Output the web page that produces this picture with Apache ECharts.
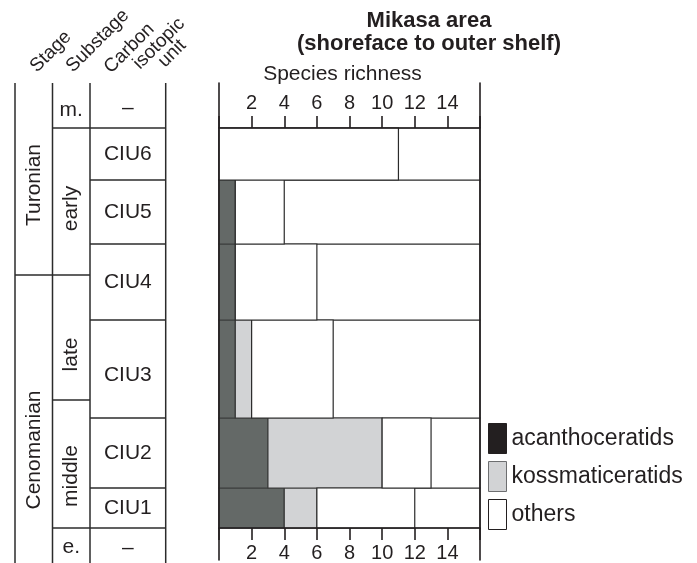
<!DOCTYPE html>
<html>
<head>
<meta charset="utf-8">
<script src="https://cdn.jsdelivr.net/npm/echarts@6/dist/echarts.min.js"></script>
<style>html,body{margin:0;background:#fff}#chart{width:697px;height:563px}</style>
</head>
<body>
<div id="chart"></div>
<script>
// stratigraphic column (level units, base of CIU1 = 0)
const stageNames = ['Cenomanian', 'Turonian'];
const stageBounds = [-35, 253, 445];
const substageNames = ['e.', 'middle', 'late', 'early', 'm.'];
const substageBounds = [-35, 0, 128, 253, 400, 445];
const unitNames = ['–', 'CIU1', 'CIU2', 'CIU3', 'CIU4', 'CIU5', 'CIU6', '–'];
const unitBounds = [-35, 0, 40, 110, 208, 284, 348, 400, 445];

// species richness per unit, CIU1 -> CIU6
const ciuUnits = ['CIU1', 'CIU2', 'CIU3', 'CIU4', 'CIU5', 'CIU6'];
const acanthoceratids = [4, 3, 1, 1, 1, 0];
const kossmaticeratids = [2, 7, 1, 0, 0, 0];
const others = [6, 3, 5, 5, 3, 11];
const richnessTicks = [2, 4, 6, 8, 10, 12, 14];

const FONT = '"Liberation Sans", Arial, sans-serif';
const INK = '#231f20';
// column edges of the left table (x units of its grid)
const colEdges = [0, 37.5, 75, 150.7];
// small vertical shifts of some labels, as in the figure
const labelNudge = { Turonian: -6, Cenomanian: -31, early: -7, late: -17, middle: -12, CIU3: -6, 'm.': -5, 'e.': -2, '–': -3 };
const flatLabels = ['m.', 'e.'];

const chart = echarts.init(document.getElementById('chart'));

// table lines
const tableLines = [];
colEdges.forEach(x => tableLines.push([x, x, stageBounds[0], stageBounds[stageBounds.length - 1]]));
stageBounds.slice(1, -1).forEach(y => tableLines.push([colEdges[0], colEdges[1], y, y]));
substageBounds.slice(1, -1).forEach(y => tableLines.push([colEdges[1], colEdges[2], y, y]));
unitBounds.slice(1, -1).forEach(y => tableLines.push([colEdges[2], colEdges[3], y, y]));

// table labels
const tableLabels = [];
const addLabels = (names, bounds, col, rot) => {
    names.forEach((n, i) => {
        const mid = (bounds[i] + bounds[i + 1]) / 2 + (labelNudge[n] || 0);
        tableLabels.push({
            value: [(colEdges[col] + colEdges[col + 1]) / 2, mid],
            text: n,
            rot: rot && !flatLabels.includes(n)
        });
    });
};
addLabels(stageNames, stageBounds, 0, true);
addLabels(substageNames, substageBounds, 1, true);
addLabels(unitNames, unitBounds, 2, false);

// stacked segments
const lowerOf = i => unitBounds[i + 1];
const upperOf = i => unitBounds[i + 2];
const segAcan = ciuUnits.map((u, i) => [0, acanthoceratids[i], lowerOf(i), upperOf(i)]);
const segKoss = ciuUnits.map((u, i) => [acanthoceratids[i], acanthoceratids[i] + kossmaticeratids[i], lowerOf(i), upperOf(i)]);
const segOther = ciuUnits.map((u, i) => {
    const s = acanthoceratids[i] + kossmaticeratids[i];
    return [s, s + others[i], lowerOf(i), upperOf(i)];
});
const rowBoxes = ciuUnits.map((u, i) => [0, 16, lowerOf(i), upperOf(i)]);

const rectRenderer = (fill, stroke) => (params, api) => {
    const x0 = api.value(0), x1 = api.value(1);
    if (x1 - x0 <= 0) return null;
    const a = api.coord([x0, api.value(3)]);
    const b = api.coord([x1, api.value(2)]);
    return {
        type: 'rect',
        shape: { x: a[0], y: a[1], width: b[0] - a[0], height: b[1] - a[1] },
        style: { fill: fill, stroke: stroke, lineWidth: 1.2 }
    };
};

const richAxis = (pos) => ({
    type: 'value',
    gridIndex: 1,
    position: pos,
    min: 0,
    max: 16,
    interval: 2,
    z: 5,
    axisLine: { show: true, onZero: false, lineStyle: { color: INK, width: 1.6 } },
    axisTick: { show: true, inside: false, length: 12, lineStyle: { color: INK, width: 1.6 } },
    axisLabel: {
        margin: 15,
        fontSize: 20,
        fontFamily: FONT,
        color: INK,
        formatter: v => richnessTicks.includes(v) ? String(v) : ''
    },
    splitLine: { show: false }
});

const frameAxis = (pos) => ({
    type: 'value',
    gridIndex: 2,
    position: pos,
    min: 0,
    max: 1,
    z: 5,
    axisLine: { show: true, onZero: false, lineStyle: { color: INK, width: 1.6 } },
    axisTick: { show: false },
    axisLabel: { show: false },
    splitLine: { show: false }
});

const option = {
    backgroundColor: '#fff',
    animation: false,
    title: {
        text: 'Mikasa area\n(shoreface to outer shelf)',
        left: 424,
        top: 4,
        textAlign: 'center',
        textStyle: { fontSize: 22, fontWeight: 'bold', fontFamily: FONT, color: INK, lineHeight: 23 }
    },
    legend: {
        orient: 'vertical',
        left: 488,
        top: 423,
        padding: 0,
        icon: 'rect',
        itemWidth: 18,
        itemHeight: 30,
        itemGap: 7,
        selectedMode: false,
        textStyle: { fontSize: 23, fontFamily: FONT, color: INK },
        data: [
            { name: 'acanthoceratids', itemStyle: { color: INK, borderColor: INK, borderWidth: 1 } },
            { name: 'kossmaticeratids', itemStyle: { color: '#d2d3d5', borderColor: '#6d6e70', borderWidth: 1 } },
            { name: 'others', itemStyle: { color: '#fff', borderColor: INK, borderWidth: 1 } }
        ]
    },
    graphic: [
        ['Stage', 40, 76],
        ['Substage', 76, 76],
        ['Carbon', 114, 77],
        ['isotopic', 143, 73],
        ['unit', 168, 71]
    ].map(([t, x, y]) => ({
        type: 'text',
        x: x,
        y: y,
        rotation: Math.PI / 4,
        style: { text: t, fontSize: 19, fontFamily: FONT, fill: INK, align: 'left', verticalAlign: 'bottom' }
    })),
    grid: [
        { left: 15, width: 150.7, top: 83, bottom: 0 },
        { left: 219, right: 217, top: 128, bottom: 35 },
        { left: 219, right: 217, top: 83, bottom: 3 }
    ],
    xAxis: [
        { type: 'value', gridIndex: 0, min: 0, max: colEdges[3], show: false },
        richAxis('bottom'),
        Object.assign(richAxis('top'), {
            name: 'Species richness',
            nameLocation: 'middle',
            nameGap: 43,
            nameTextStyle: { fontSize: 21, fontFamily: FONT, color: INK, padding: [0, 14, 0, 0] }
        }),
        { type: 'value', gridIndex: 2, min: 0, max: 16, show: false }
    ],
    yAxis: [
        { type: 'value', gridIndex: 0, min: -35, max: 445, show: false },
        { type: 'value', gridIndex: 1, min: 0, max: 400, show: false },
        frameAxis('left'),
        frameAxis('right')
    ],
    series: [
        {
            name: 'table',
            type: 'custom',
            xAxisIndex: 0,
            yAxisIndex: 0,
            encode: { x: [0, 1], y: [2, 3] },
            data: tableLines,
            renderItem: (params, api) => {
                const a = api.coord([api.value(0), api.value(2)]);
                const b = api.coord([api.value(1), api.value(3)]);
                return {
                    type: 'line',
                    shape: { x1: a[0], y1: a[1], x2: b[0], y2: b[1] },
                    style: { stroke: '#2b2b2b', lineWidth: 1.5 }
                };
            }
        },
        {
            name: 'tableText',
            type: 'custom',
            xAxisIndex: 0,
            yAxisIndex: 0,
            encode: { x: 0, y: 1 },
            data: tableLabels.map(d => d.value),
            renderItem: (params, api) => {
                const d = tableLabels[params.dataIndex];
                const p = api.coord([api.value(0), api.value(1)]);
                return {
                    type: 'text',
                    x: p[0],
                    y: p[1],
                    rotation: d.rot ? Math.PI / 2 : 0,
                    style: {
                        text: d.text, fontSize: 21, fontFamily: FONT, fill: INK,
                        align: 'center', verticalAlign: 'middle'
                    }
                };
            }
        },
        {
            name: 'rows',
            type: 'custom',
            xAxisIndex: 1,
            yAxisIndex: 1,
            encode: { x: [0, 1], y: [2, 3] },
            z: 1,
            data: rowBoxes,
            renderItem: rectRenderer('#fff', '#2b2b2b')
        },
        {
            name: 'acanthoceratids',
            type: 'custom',
            xAxisIndex: 1,
            yAxisIndex: 1,
            encode: { x: [0, 1], y: [2, 3] },
            z: 2,
            itemStyle: { color: '#646967' },
            data: segAcan,
            renderItem: rectRenderer('#646967', '#3a3d3c')
        },
        {
            name: 'kossmaticeratids',
            type: 'custom',
            xAxisIndex: 1,
            yAxisIndex: 1,
            encode: { x: [0, 1], y: [2, 3] },
            z: 2,
            itemStyle: { color: '#d2d3d5' },
            data: segKoss,
            renderItem: rectRenderer('#d2d3d5', '#3a3a3a')
        },
        {
            name: 'others',
            type: 'custom',
            xAxisIndex: 1,
            yAxisIndex: 1,
            encode: { x: [0, 1], y: [2, 3] },
            z: 2,
            itemStyle: { color: '#fff' },
            data: segOther,
            renderItem: rectRenderer('#fff', '#2b2b2b')
        }
    ]
};

chart.setOption(option);
</script>
</body>
</html>
